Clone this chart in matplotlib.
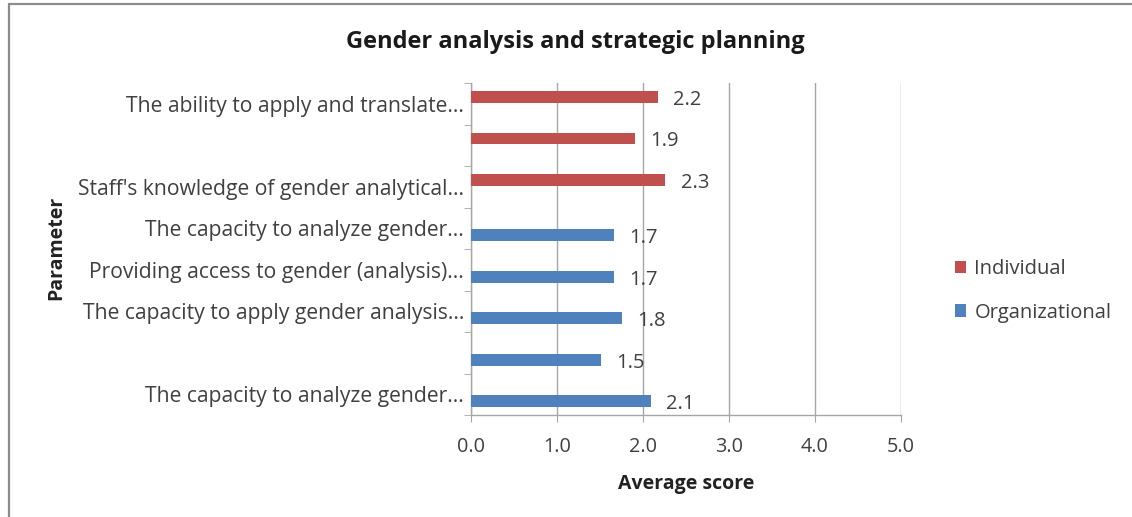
import matplotlib
matplotlib.use("Agg")
import matplotlib.pyplot as plt
from matplotlib.patches import Rectangle, Patch
import numpy as np

plt.rcParams['font.family'] = ['Open Sans', 'DejaVu Sans']

# Categories listed top to bottom
categories = [
    "The ability to apply and translate...",
    "",
    "Staff's knowledge of gender analytical...",
    "The capacity to analyze gender...",
    "Providing access to gender (analysis)...",
    "The capacity to apply gender analysis...",
    "",
    "The capacity to analyze gender...",
]
individual = [2.17, 1.91, 2.26, None, None, None, None, None]
organizational = [None, None, None, 1.66, 1.66, 1.76, 1.51, 2.09]
series_names = ["Individual", "Organizational"]
x_ticks = [0.0, 1.0, 2.0, 3.0, 4.0, 5.0]

red = "#C0504D"
blue = "#4F81BD"
text_col = "#404040"
grid_col = "#A6A6A6"

fig = plt.figure(figsize=(11.32, 5.17), dpi=100)
fig.patch.set_facecolor("white")

# chart frame
fig.add_artist(Rectangle((9 / 1132, -0.01), 1.2, 1 - 3.5 / 517 + 0.01,
                         transform=fig.transFigure, fill=False,
                         edgecolor="#8C8C8C", linewidth=1.6))

ax = fig.add_axes([471 / 1132, 1 - 415 / 517, 430 / 1132, 332 / 517])

pos = np.arange(len(categories))
h = 0.28
for vals, off, col in ((individual, -0.16, red), (organizational, 0.17, blue)):
    for i, v in enumerate(vals):
        if v is None:
            continue
        ax.barh(pos[i] + off, v, height=h, color=col, zorder=3)
        ax.annotate(f"{v:.1f}", xy=(v, pos[i] + off), xytext=(11, -2),
                    textcoords="offset points", ha="left", va="center",
                    fontsize=14.5, color=text_col)

ax.set_xlim(0, 5)
ax.set_ylim(len(categories) - 0.5, -0.5)
ax.set_xticks(x_ticks)
ax.set_xticklabels([f"{t:.1f}" for t in x_ticks], fontsize=14.3, color=text_col)
ax.set_yticks(pos)
ax.set_yticklabels(categories, fontsize=15.2, color=text_col)
ax.set_yticks(np.arange(len(categories) + 1) - 0.5, minor=True)
ax.tick_params(axis="y", which="major", length=0, pad=5)
ax.tick_params(axis="y", which="minor", length=5, color=grid_col, direction="out")
ax.tick_params(axis="x", which="major", length=5, color=grid_col, pad=11)

ax.grid(axis="x", color=grid_col, linewidth=1, zorder=0)
for s in ("top", "right"):
    ax.spines[s].set_visible(False)
for s in ("left", "bottom"):
    ax.spines[s].set_color(grid_col)
    ax.spines[s].set_linewidth(1)

ax.set_xlabel("Average score", fontsize=14, fontweight="bold", color="#222222", labelpad=12)
fig.text(56 / 1132, 1 - 248 / 517, "Parameter", rotation=90, ha="center", va="center",
         fontsize=14, fontweight="bold", color="#222222")

fig.text(575 / 1132, 1 - 42 / 517, "Gender analysis and strategic planning",
         ha="center", va="center", fontsize=17, fontweight="bold", color="#1a1a1a")

handles = [Patch(facecolor=red, edgecolor="none"), Patch(facecolor=blue, edgecolor="none")]
fig.legend(handles, series_names, loc="center left",
           bbox_to_anchor=(937 / 1132, 1 - 291 / 517), frameon=False,
           fontsize=14.5, handlelength=0.55, handleheight=0.55, handletextpad=0.4,
           labelspacing=1.15, labelcolor=text_col)

fig.savefig("out.png", dpi=100, facecolor="white")
